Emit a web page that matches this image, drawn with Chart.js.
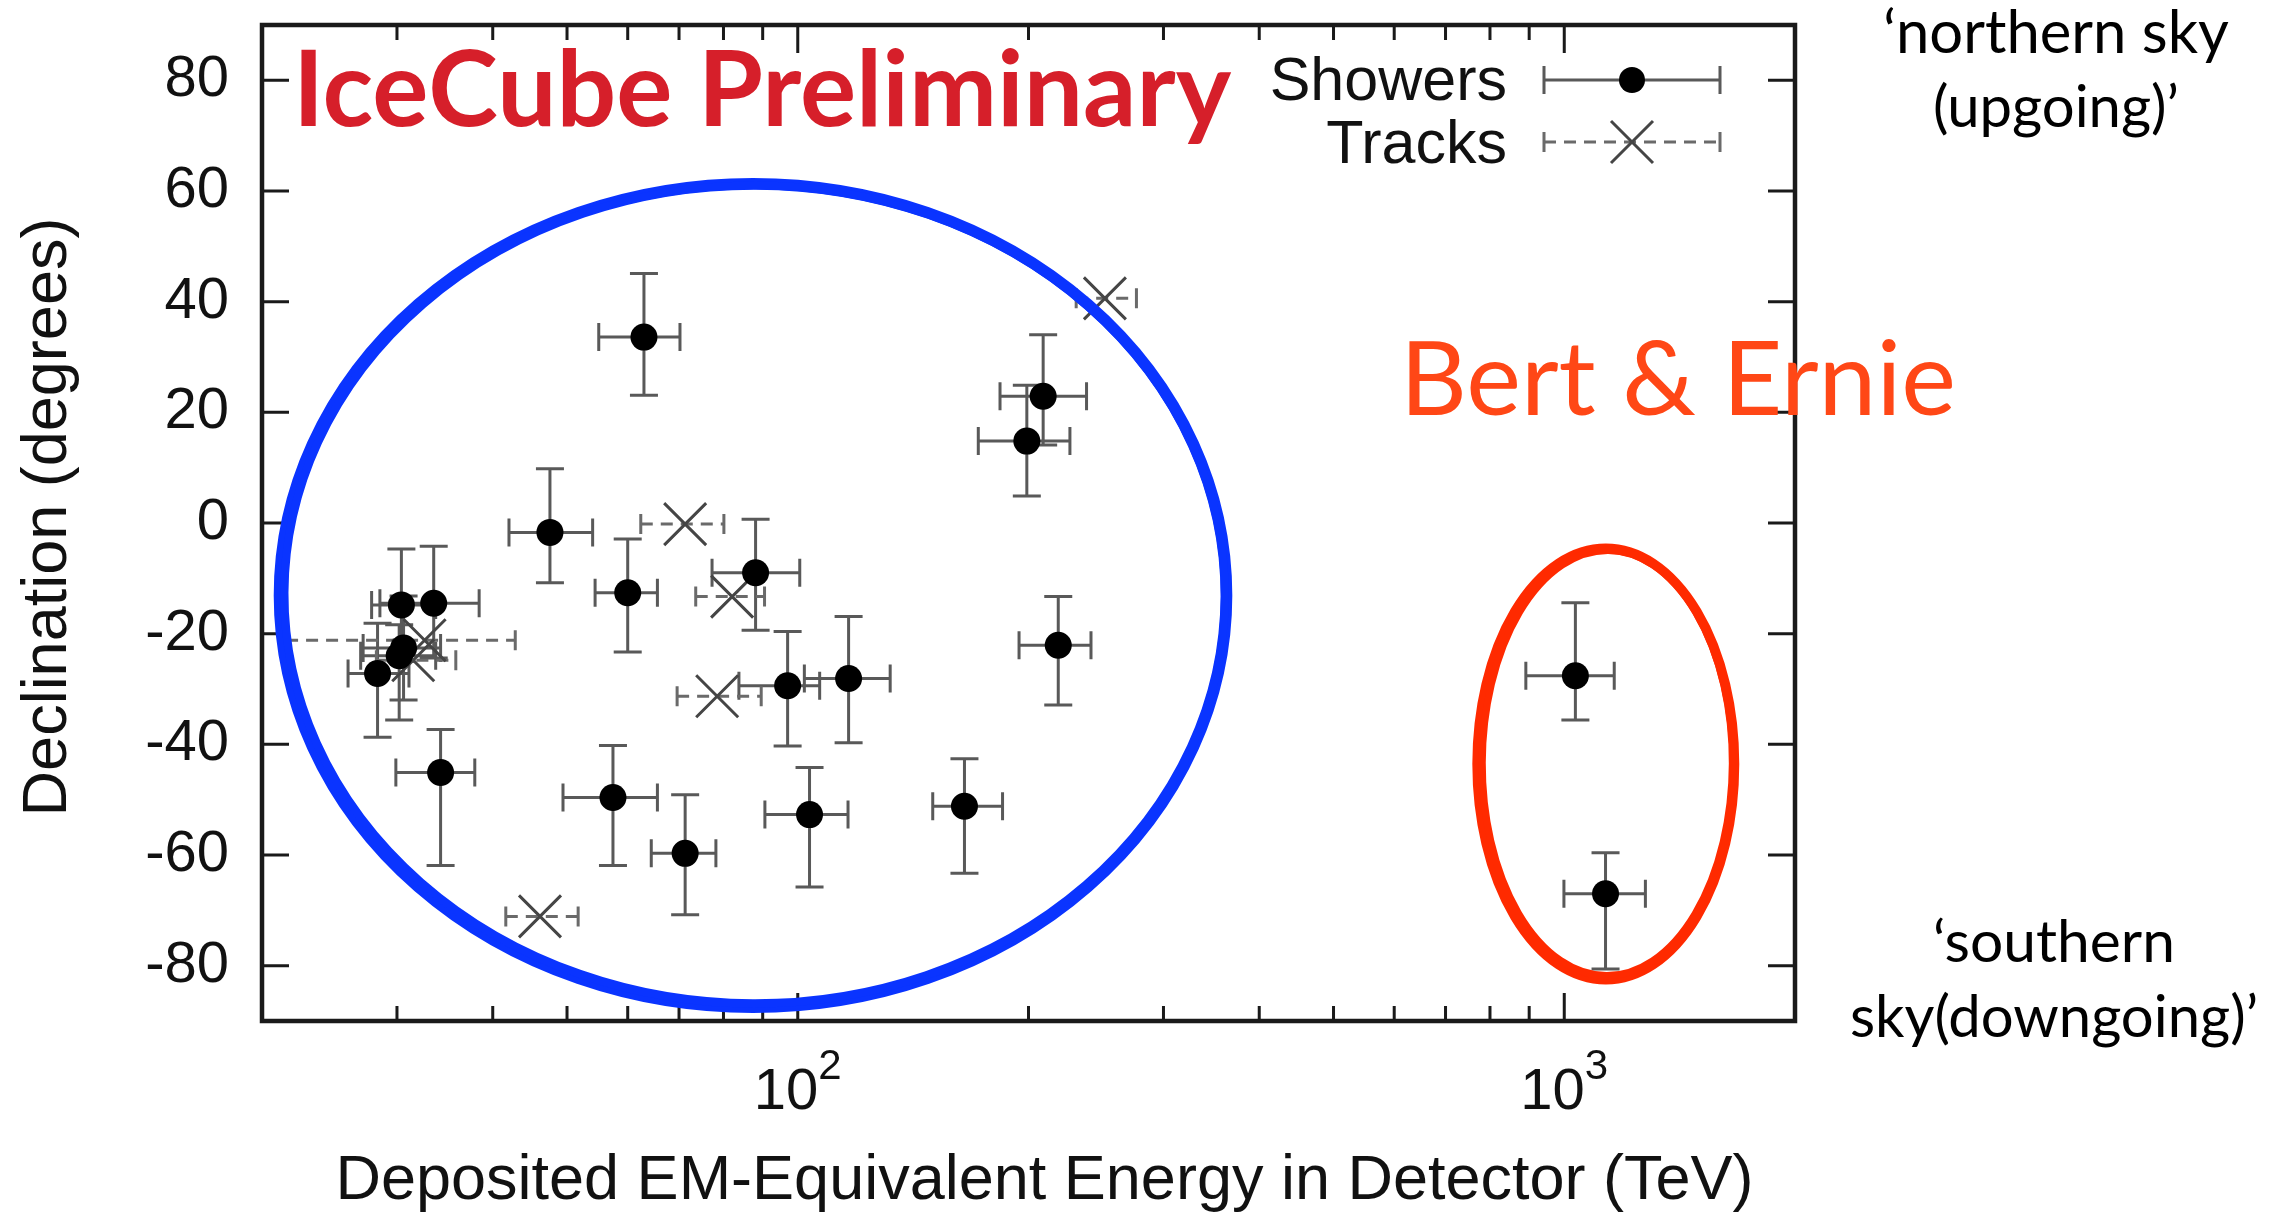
<!DOCTYPE html>
<html>
<head>
<meta charset="utf-8">
<title>IceCube events - declination vs deposited energy</title>
<script src="https://cdn.jsdelivr.net/npm/chart.js@4.4.1/dist/chart.umd.min.js"></script>
<style>
  html, body { margin: 0; padding: 0; background: #fff; }
  canvas { display: block; }
</style>
</head>
<body>
<canvas id="events-chart" width="2285" height="1213"></canvas>
<script>
// Showers (cascades): deposited energy in TeV, declination in degrees, with error bar ends
const showerEnergy     = [47.5, 116.5, 165, 28.3, 34.2, 63.0, 97.0, 88.1, 103.6, 1034, 57.4, 30.6, 199, 71.3, 1132, 30.2, 218.7, 30.4, 33.5, 209, 60.0];
const showerDec        = [-1.7, -28.1, -51.2, -27.2, -45.1, 33.6, -29.4, -9.0, -52.7, -27.6, -49.6, -22.6, 14.8, -59.7, -67.0, -24.0, -22.1, -14.8, -14.5, 22.9, -12.6];
const showerEnergyLow  = [42.0, 102, 150, 25.9, 29.9, 55.0, 83.8, 77.3, 90.6, 891, 49.4, 27.1, 172, 64.4, 999, 26.9, 194.4, 27.8, 28.5, 183.6, 54.4];
const showerEnergyHigh = [54.0, 132, 185, 31.1, 37.9, 70.2, 106.8, 100.6, 116.3, 1162, 65.6, 34.2, 226.5, 78.2, 1276, 33.7, 241.3, 33.7, 38.4, 238.1, 65.6];
const showerDecLow     = [-10.8, -39.7, -63.3, -38.7, -61.9, 23.1, -40.3, -19.4, -65.8, -35.6, -61.9, -32.0, 4.9, -70.8, -80.6, -35.6, -32.9, -25.0, -24.4, 14.1, -23.3];
const showerDecHigh    = [9.8, -16.9, -42.6, -18.1, -37.3, 45.1, -19.6, 0.7, -44.2, -14.4, -40.2, -13.2, 24.9, -49.1, -59.6, -18.4, -13.3, -4.7, -4.2, 34.0, -2.9];

// Tracks: only energy error bars are visible
const trackEnergy     = [78.5, 71.3, 32.6, 251.6, 31.5, 82.1, 46.1];
const trackDec        = [-31.3, -0.2, -21.2, 40.6, -24.8, -13.3, -71.1];
const trackEnergyLow  = [69.6, 62.4, 21.5, 230.8, 28.2, 73.6, 41.6];
const trackEnergyHigh = [89.6, 80.1, 42.8, 276.6, 35.8, 90.5, 51.7];

// axes
const xMinorTicks = [30, 40, 50, 60, 70, 80, 90, 200, 300, 400, 500, 600, 700, 800, 900];
const xMajorTicks = [100, 1000];
const yTickValues = [-80, -60, -40, -20, 0, 20, 40, 60, 80];

// hand drawn rings on the slide, given as energy / declination extents
const blueRingEnergy = [20.6, 371];
const blueRingDec = [-88.9, 62.7];
const redRingEnergy = [755, 1700];
const redRingDec = [-83.7, -3.4];

const sansFont = "'Liberation Sans', Arial, sans-serif";
const slideFont = "Lato, 'Open Sans', sans-serif";

function fitFont(ctx, text, width, weight, family) {
    ctx.font = weight + ' 100px ' + family;
    const size = 100 * width / ctx.measureText(text).width;
    return weight + ' ' + size.toFixed(1) + 'px ' + family;
}

function hBar(ctx, x1, x2, y, cap, dash) {
    ctx.setLineDash(dash);
    ctx.beginPath();
    ctx.moveTo(x1, y);
    ctx.lineTo(x2, y);
    ctx.stroke();
    ctx.setLineDash([]);
    ctx.beginPath();
    ctx.moveTo(x1, y - cap);
    ctx.lineTo(x1, y + cap);
    ctx.moveTo(x2, y - cap);
    ctx.lineTo(x2, y + cap);
    ctx.stroke();
}

function vBar(ctx, x, y1, y2, cap) {
    ctx.beginPath();
    ctx.moveTo(x, y1);
    ctx.lineTo(x, y2);
    ctx.moveTo(x - cap, y1);
    ctx.lineTo(x + cap, y1);
    ctx.moveTo(x - cap, y2);
    ctx.lineTo(x + cap, y2);
    ctx.stroke();
}

function ring(ctx, xs, ys, eRange, decRange, color, lw) {
    const x1 = xs.getPixelForValue(eRange[0]);
    const x2 = xs.getPixelForValue(eRange[1]);
    const y1 = ys.getPixelForValue(decRange[1]);
    const y2 = ys.getPixelForValue(decRange[0]);
    const cx = (x1 + x2) / 2, cy = (y1 + y2) / 2;
    const rx = (x2 - x1) / 2 - lw / 2, ry = (y2 - y1) / 2 - lw / 2;
    ctx.strokeStyle = color;
    ctx.lineWidth = lw * 0.75;
    ctx.beginPath();
    ctx.ellipse(cx, cy, rx, ry, 0, 0, 2 * Math.PI);
    ctx.stroke();
    ctx.lineWidth = lw * 0.55;
    ctx.beginPath();
    ctx.ellipse(cx + 1.5, cy - 1, rx - 3.5, ry - 3, 0.004, 0, 2 * Math.PI);
    ctx.stroke();
}

const errorBars = {
    id: 'errorBars',
    beforeDatasetsDraw(chart) {
        const {ctx, chartArea: a, scales: {x, y}} = chart;
        ctx.save();
        ctx.beginPath();
        ctx.rect(a.left, a.top, a.width, a.height);
        ctx.clip();
        ctx.lineWidth = 3;
        ctx.strokeStyle = '#595959';
        showerEnergy.forEach(function(e, i) {
            const px = x.getPixelForValue(e);
            const py = y.getPixelForValue(showerDec[i]);
            hBar(ctx, x.getPixelForValue(showerEnergyLow[i]), x.getPixelForValue(showerEnergyHigh[i]), py, 14, []);
            vBar(ctx, px, y.getPixelForValue(showerDecLow[i]), y.getPixelForValue(showerDecHigh[i]), 14);
        });
        ctx.strokeStyle = '#6a6a6a';
        trackEnergy.forEach(function(e, i) {
            const py = y.getPixelForValue(trackDec[i]);
            hBar(ctx, x.getPixelForValue(trackEnergyLow[i]), x.getPixelForValue(trackEnergyHigh[i]), py, 10, [12, 8]);
        });
        ctx.restore();
    }
};

const frameAndNotes = {
    id: 'frameAndNotes',
    afterDraw(chart) {
        const {ctx, chartArea: a, scales: {x, y}} = chart;
        ctx.save();

        // gnuplot style frame with inward ticks on all four sides
        ctx.strokeStyle = '#1a1a1a';
        ctx.lineWidth = 3;
        ctx.beginPath();
        xMinorTicks.concat(xMajorTicks).forEach(function(v) {
            const px = x.getPixelForValue(v);
            const len = xMajorTicks.includes(v) ? 28 : 15;
            ctx.moveTo(px, a.bottom);
            ctx.lineTo(px, a.bottom - len);
            ctx.moveTo(px, a.top);
            ctx.lineTo(px, a.top + len);
        });
        yTickValues.forEach(function(v) {
            const py = y.getPixelForValue(v);
            ctx.moveTo(a.left, py);
            ctx.lineTo(a.left + 27, py);
            ctx.moveTo(a.right, py);
            ctx.lineTo(a.right - 27, py);
        });
        ctx.stroke();
        ctx.lineWidth = 4.5;
        ctx.strokeRect(a.left, a.top, a.width, a.height);

        // x tick labels as 10^n
        ctx.fillStyle = '#111';
        ctx.textBaseline = 'alphabetic';
        xMajorTicks.forEach(function(v) {
            const px = x.getPixelForValue(v);
            const exp = String(Math.round(Math.log10(v)));
            ctx.font = '58px ' + sansFont;
            const wBase = ctx.measureText('10').width;
            ctx.font = '42px ' + sansFont;
            const wExp = ctx.measureText(exp).width;
            const left = px - (wBase + wExp) / 2;
            ctx.textAlign = 'left';
            ctx.font = '58px ' + sansFont;
            ctx.fillText('10', left, 1109);
            ctx.font = '42px ' + sansFont;
            ctx.fillText(exp, left + wBase, 1079);
        });

        // axis titles
        ctx.font = '63px ' + sansFont;
        ctx.textAlign = 'center';
        ctx.fillText('Deposited EM-Equivalent Energy in Detector (TeV)', (a.left + a.right) / 2 + 16, 1199);
        ctx.save();
        ctx.translate(66, (a.top + a.bottom) / 2 - 6);
        ctx.rotate(-Math.PI / 2);
        ctx.fillText('Declination (degrees)', 0, 0);
        ctx.restore();

        // legend
        const legendRight = a.right - 288;
        const sampleL = a.right - 251, sampleR = a.right - 75, sampleC = (sampleL + sampleR) / 2;
        ctx.font = '61px ' + sansFont;
        ctx.textAlign = 'right';
        ctx.fillStyle = '#111';
        ctx.fillText('Showers', legendRight, a.top + 75);
        ctx.fillText('Tracks', legendRight, a.top + 138);
        ctx.lineWidth = 3;
        ctx.strokeStyle = '#595959';
        hBar(ctx, sampleL, sampleR, a.top + 55, 14, []);
        ctx.fillStyle = '#000';
        ctx.beginPath();
        ctx.arc(sampleC, a.top + 55, 13, 0, 2 * Math.PI);
        ctx.fill();
        ctx.strokeStyle = '#6a6a6a';
        hBar(ctx, sampleL, sampleR, a.top + 117, 10, [12, 8]);
        ctx.strokeStyle = '#454545';
        ctx.beginPath();
        ctx.moveTo(sampleC - 21, a.top + 96);
        ctx.lineTo(sampleC + 21, a.top + 138);
        ctx.moveTo(sampleC + 21, a.top + 96);
        ctx.lineTo(sampleC - 21, a.top + 138);
        ctx.stroke();

        // overlay added on the slide
        ctx.textAlign = 'left';
        ctx.fillStyle = '#d61f2a';
        ctx.font = fitFont(ctx, 'IceCube Preliminary', 938, 'bold', slideFont);
        ctx.fillText('IceCube Preliminary', 293, 126);

        ring(ctx, x, y, blueRingEnergy, blueRingDec, '#0a34ff', 15);
        ring(ctx, x, y, redRingEnergy, redRingDec, '#ff2a00', 13);

        ctx.fillStyle = '#ff4716';
        ctx.font = fitFont(ctx, 'Bert & Ernie', 556, 'normal', slideFont);
        ctx.fillText('Bert & Ernie', 1400, 415);

        ctx.fillStyle = '#000';
        ctx.textAlign = 'center';
        ctx.font = fitFont(ctx, '\u2018northern sky', 346, 'normal', slideFont);
        ctx.fillText('\u2018northern sky', 2056, 53);
        ctx.font = fitFont(ctx, '(upgoing)\u2019', 246, 'normal', slideFont);
        ctx.fillText('(upgoing)\u2019', 2056, 127);
        ctx.font = fitFont(ctx, '\u2018southern', 242, 'normal', slideFont);
        ctx.fillText('\u2018southern', 2054, 962);
        ctx.font = fitFont(ctx, 'sky(downgoing)\u2019', 408, 'normal', slideFont);
        ctx.fillText('sky(downgoing)\u2019', 2054, 1037);

        ctx.restore();
    }
};

document.addEventListener('DOMContentLoaded', function() {
    const ctx = document.getElementById('events-chart').getContext('2d');

    new Chart(ctx, {
        type: 'scatter',
        data: {
            datasets: [{
                label: 'Showers',
                data: showerEnergy.map(function(e, i) { return {x: e, y: showerDec[i]}; }),
                pointStyle: 'circle',
                pointRadius: 13.5,
                backgroundColor: '#000',
                borderColor: '#000',
                borderWidth: 0
            }, {
                label: 'Tracks',
                data: trackEnergy.map(function(e, i) { return {x: e, y: trackDec[i]}; }),
                pointStyle: 'crossRot',
                pointRadius: 29.7,
                backgroundColor: 'transparent',
                borderColor: '#454545',
                borderWidth: 3
            }]
        },
        options: {
            responsive: false,
            animation: false,
            events: [],
            layout: {
                // the big X markers would otherwise add their radius as padding
                autoPadding: false,
                padding: {left: 0, top: 25, right: 490, bottom: 0}
            },
            plugins: {
                legend: {display: false},
                tooltip: {enabled: false}
            },
            scales: {
                x: {
                    type: 'logarithmic',
                    min: 20,
                    max: 2000,
                    grid: {display: false, drawTicks: false},
                    border: {display: false},
                    ticks: {display: false},
                    afterFit: function(axis) {
                        axis.height = 192;
                        axis.paddingLeft = 0;
                        axis.paddingRight = 0;
                    }
                },
                y: {
                    type: 'linear',
                    min: -90,
                    max: 90,
                    grid: {display: false, drawTicks: false},
                    border: {display: false},
                    afterBuildTicks: function(axis) {
                        axis.ticks = yTickValues.map(function(v) { return {value: v}; });
                    },
                    ticks: {
                        color: '#111',
                        padding: 33,
                        font: {family: sansFont, size: 58}
                    },
                    afterFit: function(axis) {
                        axis.width = 262;
                        axis.paddingTop = 0;
                        axis.paddingBottom = 0;
                    }
                }
            }
        },
        plugins: [errorBars, frameAndNotes]
    });
});
</script>
</body>
</html>
